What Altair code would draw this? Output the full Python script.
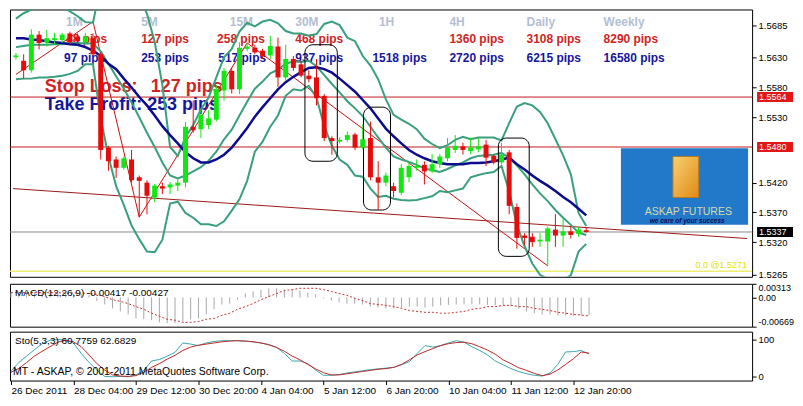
import altair as alt
import pandas as pd

FONT = "Liberation Sans"
W, HM, HD, HS = 744, 268, 43, 49

# ---------------- candles (H4, one entry per bar) ----------------
OPEN = [1.5631, 1.5625, 1.5609, 1.5669, 1.5656, 1.5660, 1.5660, 1.5671, 1.5666, 1.5656,
        1.5663, 1.5636, 1.5479, 1.5459, 1.5445, 1.5459, 1.5429, 1.5420, 1.5395, 1.5414,
        1.5412, 1.5415, 1.5420, 1.5514, 1.5510, 1.5517, 1.5526, 1.5575, 1.5608, 1.5577,
        1.5645, 1.5647, 1.5642, 1.5634, 1.5649, 1.5597, 1.5628, 1.5619, 1.5600, 1.5597,
        1.5566, 1.5495, 1.5489, 1.5492, 1.5501, 1.5479, 1.5495, 1.5429, 1.5420, 1.5414,
        1.5403, 1.5429, 1.5445, 1.5450, 1.5439, 1.5451, 1.5461, 1.5475, 1.5481, 1.5473,
        1.5476, 1.5484, 1.5465, 1.5454, 1.5471, 1.5379, 1.5331, 1.5329, 1.5321, 1.5321,
        1.5341, 1.5331, 1.5338, 1.5334, 1.5340]
HIGH = [1.5638, 1.5636, 1.5678, 1.5675, 1.5677, 1.5672, 1.5672, 1.5674, 1.5671, 1.5672,
        1.5671, 1.5639, 1.5482, 1.5464, 1.5464, 1.5475, 1.5432, 1.5424, 1.5418, 1.5420,
        1.5421, 1.5429, 1.5522, 1.5558, 1.5542, 1.5542, 1.5584, 1.5613, 1.5613, 1.5656,
        1.5655, 1.5652, 1.5645, 1.5667, 1.5664, 1.5652, 1.5633, 1.5625, 1.5609, 1.5628,
        1.5569, 1.5498, 1.5496, 1.5506, 1.5504, 1.5518, 1.5523, 1.5456, 1.5437, 1.5420,
        1.5451, 1.5456, 1.5459, 1.5456, 1.5468, 1.5468, 1.5495, 1.5500, 1.5487, 1.5496,
        1.5495, 1.5492, 1.5468, 1.5487, 1.5475, 1.5385, 1.5335, 1.5335, 1.5335, 1.5346,
        1.5367, 1.5359, 1.5346, 1.5346, 1.5344]
LOW = [1.5627, 1.5595, 1.5605, 1.5644, 1.5649, 1.5652, 1.5655, 1.5652, 1.5652, 1.5652,
       1.5633, 1.5459, 1.5440, 1.5428, 1.5442, 1.5420, 1.5362, 1.5367, 1.5387, 1.5401,
       1.5401, 1.5406, 1.5412, 1.5504, 1.5495, 1.5510, 1.5523, 1.5558, 1.5570, 1.5569,
       1.5641, 1.5636, 1.5628, 1.5628, 1.5581, 1.5592, 1.5608, 1.5597, 1.5589, 1.5550,
       1.5490, 1.5467, 1.5486, 1.5489, 1.5475, 1.5476, 1.5424, 1.5374, 1.5414, 1.5395,
       1.5399, 1.5421, 1.5440, 1.5417, 1.5436, 1.5445, 1.5456, 1.5470, 1.5467, 1.5468,
       1.5471, 1.5448, 1.5451, 1.5451, 1.5367, 1.5309, 1.5315, 1.5312, 1.5312, 1.5280,
       1.5312, 1.5312, 1.5326, 1.5329, 1.5336]
CLOSE = [1.5634, 1.5609, 1.5669, 1.5655, 1.5663, 1.5663, 1.5669, 1.5656, 1.5658, 1.5666,
         1.5636, 1.5475, 1.5456, 1.5445, 1.5461, 1.5424, 1.5423, 1.5398, 1.5415, 1.5410,
         1.5417, 1.5420, 1.5514, 1.5508, 1.5534, 1.5528, 1.5577, 1.5608, 1.5577, 1.5647,
         1.5649, 1.5639, 1.5633, 1.5650, 1.5597, 1.5628, 1.5613, 1.5600, 1.5594, 1.5562,
         1.5495, 1.5490, 1.5492, 1.5500, 1.5479, 1.5493, 1.5429, 1.5420, 1.5432, 1.5406,
         1.5445, 1.5448, 1.5448, 1.5439, 1.5451, 1.5464, 1.5479, 1.5482, 1.5475, 1.5479,
         1.5481, 1.5462, 1.5454, 1.5467, 1.5381, 1.5327, 1.5327, 1.5320, 1.5324, 1.5343,
         1.5331, 1.5338, 1.5332, 1.5341, 1.5337]
BARS = list(range(len(CLOSE)))

# ---------------- indicators ----------------
BB_UPPER = [1.5696, 1.5705, 1.5711, 1.5718, 1.5719, 1.5719, 1.5716, 1.5708, 1.5700, 1.5690,
            1.5689, 1.5753, 1.5775, 1.5783, 1.5774, 1.5761, 1.5735, 1.5704, 1.5657, 1.5584,
            1.5480, 1.5465, 1.5497, 1.5517, 1.5543, 1.5563, 1.5597, 1.5631, 1.5645, 1.5674,
            1.5689, 1.5683, 1.5691, 1.5694, 1.5688, 1.5675, 1.5671, 1.5671, 1.5667, 1.5670,
            1.5687, 1.5691, 1.5685, 1.5664, 1.5658, 1.5633, 1.5617, 1.5594, 1.5560, 1.5534,
            1.5526, 1.5519, 1.5510, 1.5494, 1.5485, 1.5478, 1.5483, 1.5492, 1.5497, 1.5493,
            1.5496, 1.5496, 1.5496, 1.5491, 1.5520, 1.5548, 1.5554, 1.5550, 1.5539, 1.5520,
            1.5493, 1.5466, 1.5434, 1.5369, 1.5347]
BB_MIDDLE = [1.5648, 1.5650, 1.5652, 1.5652, 1.5652, 1.5653, 1.5653, 1.5655, 1.5655, 1.5654,
             1.5654, 1.5641, 1.5620, 1.5599, 1.5578, 1.5555, 1.5530, 1.5504, 1.5480, 1.5454,
             1.5432, 1.5427, 1.5432, 1.5439, 1.5446, 1.5457, 1.5472, 1.5493, 1.5509, 1.5533,
             1.5556, 1.5578, 1.5590, 1.5604, 1.5610, 1.5620, 1.5624, 1.5623, 1.5625, 1.5616,
             1.5601, 1.5586, 1.5572, 1.5557, 1.5545, 1.5532, 1.5514, 1.5496, 1.5479, 1.5464,
             1.5459, 1.5455, 1.5450, 1.5444, 1.5441, 1.5438, 1.5443, 1.5449, 1.5454, 1.5461,
             1.5465, 1.5466, 1.5467, 1.5470, 1.5462, 1.5449, 1.5434, 1.5417, 1.5402, 1.5389,
             1.5374, 1.5361, 1.5349, 1.5336, 1.5332]
BB_LOWER = [1.5594, 1.5595, 1.5595, 1.5597, 1.5597, 1.5598, 1.5600, 1.5603, 1.5608, 1.5619,
            1.5619, 1.5529, 1.5464, 1.5414, 1.5382, 1.5348, 1.5325, 1.5304, 1.5303, 1.5324,
            1.5385, 1.5388, 1.5369, 1.5361, 1.5350, 1.5350, 1.5347, 1.5355, 1.5373, 1.5392,
            1.5423, 1.5472, 1.5489, 1.5514, 1.5533, 1.5566, 1.5577, 1.5575, 1.5583, 1.5563,
            1.5515, 1.5482, 1.5459, 1.5450, 1.5432, 1.5430, 1.5410, 1.5396, 1.5398, 1.5393,
            1.5391, 1.5390, 1.5391, 1.5394, 1.5397, 1.5406, 1.5404, 1.5407, 1.5410, 1.5429,
            1.5433, 1.5436, 1.5438, 1.5448, 1.5405, 1.5349, 1.5313, 1.5284, 1.5265, 1.5258,
            1.5254, 1.5256, 1.5264, 1.5304, 1.5317]
MA_BLUE = [1.5663, 1.5663, 1.5661, 1.5660, 1.5658, 1.5656, 1.5655, 1.5653, 1.5652, 1.5648,
           1.5642, 1.5633, 1.5620, 1.5611, 1.5595, 1.5580, 1.5564, 1.5550, 1.5533, 1.5515,
           1.5500, 1.5486, 1.5471, 1.5461, 1.5454, 1.5454, 1.5459, 1.5467, 1.5479, 1.5495,
           1.5512, 1.5531, 1.5547, 1.5562, 1.5577, 1.5589, 1.5598, 1.5606, 1.5613, 1.5614,
           1.5611, 1.5605, 1.5595, 1.5584, 1.5573, 1.5559, 1.5545, 1.5528, 1.5511, 1.5498,
           1.5486, 1.5475, 1.5467, 1.5461, 1.5456, 1.5453, 1.5451, 1.5451, 1.5451, 1.5453,
           1.5453, 1.5454, 1.5456, 1.5459, 1.5462, 1.5451, 1.5442, 1.5432, 1.5423, 1.5415,
           1.5406, 1.5396, 1.5387, 1.5376, 1.5365]
MACD_MAIN = [0.0012, 0.0011, 0.0012, 0.0012, 0.0011, 0.0010, 0.0010, 0.0009, 0.0008, 0.0008,
             0.0005, -0.0008, -0.0016, -0.0025, -0.0032, -0.0039, -0.0048, -0.0050, -0.0052, -0.0057,
             -0.0059, -0.0059, -0.0055, -0.0050, -0.0048, -0.0039, -0.0027, -0.0016, -0.0014, -0.0005,
             0.0009, 0.0014, 0.0018, 0.0021, 0.0021, 0.0018, 0.0018, 0.0016, 0.0011, 0.0007,
             -0.0002, -0.0007, -0.0011, -0.0014, -0.0014, -0.0016, -0.0021, -0.0023, -0.0025, -0.0025,
             -0.0023, -0.0021, -0.0021, -0.0023, -0.0021, -0.0018, -0.0017, -0.0016, -0.0016, -0.0016,
             -0.0016, -0.0017, -0.0018, -0.0017, -0.0020, -0.0026, -0.0032, -0.0036, -0.0039, -0.0039,
             -0.0041, -0.0041, -0.0042, -0.0042, -0.00417]
MACD_SIGNAL = [0.0011, 0.0011, 0.0011, 0.0011, 0.0011, 0.0011, 0.0011, 0.0010, 0.0010, 0.0010,
               0.0009, 0.0007, 0.0002, -0.0005, -0.0009, -0.0014, -0.0021, -0.0027, -0.0036, -0.0043,
               -0.0050, -0.0052, -0.0057, -0.0057, -0.0055, -0.0050, -0.0048, -0.0041, -0.0036, -0.0027,
               -0.0021, -0.0014, -0.0005, 0.0002, 0.0009, 0.0016, 0.0018, 0.0021, 0.0021, 0.0021,
               0.0018, 0.0014, 0.0009, 0.0005, -0.0002, -0.0007, -0.0014, -0.0016, -0.0018, -0.0021,
               -0.0025, -0.0030, -0.0032, -0.0034, -0.0034, -0.0036, -0.0036, -0.0034, -0.0032, -0.0027,
               -0.0025, -0.0021, -0.0021, -0.0018, -0.0018, -0.0021, -0.0021, -0.0025, -0.0027, -0.0030,
               -0.0034, -0.0036, -0.0039, -0.0040, -0.00427]
STO_MAIN = [15, 38, 55, 72, 88, 97, 99, 98, 90, 62,
            38, 18, 1, 0, 1, 0, 5, 17, 42, 46,
            55, 65, 90, 87, 83, 90, 94, 96, 96, 96,
            95, 93, 90, 86, 78, 62, 42, 42, 35, 18,
            4, 4, 6, 10, 13, 16, 19, 21, 23, 25,
            32, 40, 62, 83, 79, 83, 90, 96, 92, 80,
            70, 58, 42, 32, 22, 14, 8, 4, 2, 10,
            33, 66, 67, 70, 60.7759]
STO_SIGNAL = [12, 22, 38, 55, 68, 80, 92, 97, 93, 80,
              58, 35, 18, 5, 2, 1, 3, 12, 25, 35,
              47, 57, 70, 79, 84, 87, 90, 93, 95, 96,
              95, 93, 90, 85, 78, 68, 55, 45, 33, 21,
              11, 5, 5, 8, 11, 14, 17, 20, 22, 25,
              33, 45, 58, 67, 75, 83, 88, 91, 92, 88,
              80, 71, 60, 45, 35, 24, 17, 9, 3, 7,
              18, 33, 48, 66, 62.6829]

# ---------------- drawn objects ----------------
ZIGZAG_BARS = [0, 10, 16, 30, 69]
ZIGZAG_PRICES = [1.5602, 1.5691, 1.5362, 1.5655, 1.5280]
TREND_BARS = [-0.375, 94.875]
TREND_PRICES = [1.5410, 1.5326]
BOX_FROM = [37.5, 45.1, 62.6]
BOX_TO = [41.7, 48.6, 66.6]
BOX_HIGH = [1.5652, 1.5547, 1.5495]
BOX_LOW = [1.5456, 1.5374, 1.5296]
LEVEL_SL, LEVEL_TP, LEVEL_BID, LEVEL_FIBO = 1.5564, 1.5480, 1.5337, 1.5271

# ---------------- texts ----------------
TIMEFRAMES = ["1M", "5M", "15M", "30M", "1H", "4H", "Daily", "Weekly"]
TF_BARS = [6.5, 16.25, 27.75, 36.25, 47.1, 56.25, 66.25, 76.25]
SL_PIPS = ["48 pips", "127 pips", "258 pips", "468 pips", "1360 pips", "3108 pips", "8290 pips"]
SL_BARS = [6.5, 16.25, 26.1, 36.25, 56.25, 66.25, 76.25]
TP_PIPS = ["97 pips", "253 pips", "517 pips", "937 pips", "1518 pips", "2720 pips", "6215 pips", "16580 pips"]
TP_BARS = [6.25, 16.25, 26.25, 36.25, 46.25, 56.25, 66.25, 76.25]
ROW_TF, ROW_SL, ROW_TP = 1.5691, 1.5661, 1.5630

X_TICK_BARS = [0, 8, 16, 24, 32, 40, 48, 56, 64, 72]
X_TICK_LABELS = ["26 Dec 2011", "28 Dec 04:00", "29 Dec 12:00", "30 Dec 20:00", "4 Jan 04:00",
                 "5 Jan 12:00", "6 Jan 20:00", "10 Jan 04:00", "11 Jan 12:00", "12 Jan 20:00"]
PRICE_TICKS = [1.5685, 1.5630, 1.5580, 1.5530, 1.5420, 1.5370, 1.5320, 1.5265]
MACD_TICKS = [0.00313, 0.0, -0.00669]
MACD_TICK_LABELS = ["0.00313", "0.00", "-0.00669"]
STO_TICKS = [0, 100]

BULL, BEAR = "#10e810", "#e60c0c"
BB_COLOR, MA_COLOR = "#3a9f7c", "#0c0c8e"
RED_TXT, BLUE_TXT, GREY_TXT = "#d02424", "#16169c", "#b3bed2"

XS = alt.Scale(domain=[-0.125, 94.875], nice=False, zero=False)
YM = alt.Scale(domain=[1.52616, 1.57113], nice=False, zero=False)
YD = alt.Scale(domain=[-0.00669, 0.00313], nice=False, zero=False)
YS = alt.Scale(domain=[-10, 120], nice=False, zero=False)

AXIS_STYLE = dict(tickSize=4, tickColor="black", labelPadding=2, labelFont=FONT,
                  labelColor="black", domain=False, grid=False, title=None, labelOverlap=False)
MAIN_AXIS = alt.Axis(orient="right", values=PRICE_TICKS, format=".4f", labelFontSize=9.5, **AXIS_STYLE)
macd_expr = (f"datum.value > 0.001 ? '{MACD_TICK_LABELS[0]}' : "
             f"(datum.value < -0.001 ? '{MACD_TICK_LABELS[2]}' : '{MACD_TICK_LABELS[1]}')")
MACD_AXIS = alt.Axis(orient="right", values=MACD_TICKS, labelExpr=macd_expr, labelFlush=True,
                     labelFontSize=9, **AXIS_STYLE)
STO_AXIS = alt.Axis(orient="right", values=STO_TICKS, format="d", labelFontSize=9.5, **AXIS_STYLE)
x_expr = "[" + ",".join(f"'{s}'" for s in X_TICK_LABELS) + "][round(datum.value / 8)]"
X_AXIS = alt.Axis(values=X_TICK_BARS, labelExpr=x_expr, labelAlign="left", labelBaseline="top", labelPadding=1,
                  labelFont=FONT, labelFontSize=10, labelColor="black", tickSize=4, tickColor="black",
                  domain=False, grid=False, title=None, labelOverlap=False)


def xenc(field="bar", axis=None):
    return alt.X(f"{field}:Q", scale=XS, axis=axis)


def yenc(field, scale=YM, axis=MAIN_AXIS):
    return alt.Y(f"{field}:Q", scale=scale, axis=axis)


def texts(bars, prices, labels, color, size, weight="bold", align="left", style="normal"):
    df = pd.DataFrame({"bar": bars, "price": prices, "txt": labels})
    return alt.Chart(df).mark_text(align=align, baseline="middle", font=FONT, fontSize=size,
                                   fontWeight=weight, fontStyle=style, color=color).encode(
        x=xenc(), y=yenc("price"), text="txt:N")


def level(price, color, width=1.0):
    return alt.Chart(pd.DataFrame({"price": [price]})).mark_rule(
        color=color, strokeWidth=width).encode(y=yenc("price"))


def polyline(bars, values, color, width, scale=YM, axis=MAIN_AXIS, xaxis=None, dash=None):
    df = pd.DataFrame({"bar": bars, "v": values})
    kw = dict(color=color, strokeWidth=width, clip=True)
    if dash:
        kw["strokeDash"] = dash
    return alt.Chart(df).mark_line(**kw).encode(x=xenc(axis=xaxis), y=yenc("v", scale, axis))


def panel_text(txt, px, py, size=10):
    return alt.Chart(pd.DataFrame({"t": [txt]})).mark_text(
        align="left", baseline="middle", font=FONT, fontSize=size, color="black").encode(
        x=alt.value(px), y=alt.value(py), text="t:N")


# ---------------- main price panel ----------------
candles = pd.DataFrame({"bar": BARS, "open": OPEN, "high": HIGH, "low": LOW, "close": CLOSE})
candles["dir"] = ["up" if c >= o else "down" for o, c in zip(OPEN, CLOSE)]
ccolor = alt.Color("dir:N", scale=alt.Scale(domain=["up", "down"], range=[BULL, BEAR]), legend=None)
wicks = alt.Chart(candles).mark_rule(strokeWidth=1).encode(
    x=xenc(), y=yenc("low"), y2="high:Q", color=ccolor)
bodies = alt.Chart(candles).mark_bar(size=5).encode(
    x=xenc(), y=yenc("open"), y2="close:Q", color=ccolor)

boxes = alt.Chart(pd.DataFrame({"b0": BOX_FROM, "b1": BOX_TO, "hi": BOX_HIGH, "lo": BOX_LOW})).mark_rect(
    cornerRadius=8, fillOpacity=0, stroke="black", strokeWidth=1).encode(
    x=xenc("b0"), x2="b1:Q", y=yenc("hi"), y2="lo:Q")

logo = alt.Chart(pd.DataFrame({"b0": [78.5], "b1": [95.0], "hi": [1.5478], "lo": [1.5349]})).mark_rect(
    color="#2379c9").encode(x=xenc("b0"), x2="b1:Q", y=yenc("hi"), y2="lo:Q")
icon = alt.Chart(pd.DataFrame({"b0": [85.25], "b1": [88.6], "hi": [1.5464], "lo": [1.5395]})).mark_rect(
    color=alt.Gradient(gradient="linear", stops=[alt.GradientStop(color="#f8d070", offset=0),
                                                 alt.GradientStop(color="#e08a14", offset=1)],
                       x1=0, x2=1, y1=0, y2=1),
    stroke="#b47a22", strokeWidth=1).encode(x=xenc("b0"), x2="b1:Q", y=yenc("hi"), y2="lo:Q")

layers = [
    texts(TF_BARS, [ROW_TF] * len(TF_BARS), TIMEFRAMES, GREY_TXT, 12),
    texts(SL_BARS, [ROW_SL] * len(SL_BARS), SL_PIPS, RED_TXT, 12),
    texts(TP_BARS, [ROW_TP] * len(TP_BARS), TP_PIPS, BLUE_TXT, 12),
    texts([3.75, 17.5], [1.5581, 1.5581], ["Stop Loss:", "127 pips"], RED_TXT, 18),
    texts([3.75], [1.5550], ["Take Profit: 253 pips"], BLUE_TXT, 18),
    level(LEVEL_SL, "#c01c1c"),
    level(LEVEL_TP, "#c01c1c"),
    level(LEVEL_BID, "#8a8a8a"),
    level(LEVEL_FIBO, "#eeee70", 1.5),
    polyline(TREND_BARS, TREND_PRICES, "#a01818", 1),
    polyline(ZIGZAG_BARS, ZIGZAG_PRICES, "#c81010", 1),
    polyline(BARS, BB_UPPER, BB_COLOR, 2),
    polyline(BARS, BB_MIDDLE, BB_COLOR, 2),
    polyline(BARS, BB_LOWER, BB_COLOR, 2),
    polyline(BARS, MA_BLUE, MA_COLOR, 2.5),
    boxes, logo, icon,
    texts([87.25], [1.5370], ["ASKAP FUTURES"], "#d4d9a6", 10.5, weight="normal", align="center"),
    texts([87.1], [1.5355], ["we care of your success"], "#101050", 6.5, align="center", style="italic"),
    texts([94.85], [1.5281], ["0.0 @1.5271"], "#e2e200", 9, weight="normal", align="right"),
    wicks, bodies,
]
for price, bg in [(LEVEL_SL, "#e01818"), (LEVEL_TP, "#e01818"), (LEVEL_BID, "#000000")]:
    tdf = pd.DataFrame({"price": [price], "txt": [f"{price:.4f}"]})
    layers.append(alt.Chart(tdf).mark_tick(orient="horizontal", size=36, thickness=10, color=bg, opacity=1).encode(
        x=alt.value(W + 23), y=yenc("price")))
    layers.append(alt.Chart(tdf).mark_text(align="left", baseline="middle", font=FONT, fontSize=9,
                                           color="white").encode(x=alt.value(W + 7), y=yenc("price"), text="txt:N"))
main = alt.layer(*layers).properties(width=W, height=HM)

# ---------------- MACD panel ----------------
macd_df = pd.DataFrame({"bar": BARS, "main": MACD_MAIN, "base": [0.0] * len(BARS)})
macd_bars = alt.Chart(macd_df).mark_rule(color="#a8a8a8", strokeWidth=1).encode(
    x=xenc(), y=yenc("base", YD, MACD_AXIS), y2="main:Q")
macd = alt.layer(
    macd_bars,
    polyline(BARS, MACD_SIGNAL, "#c83030", 1, scale=YD, axis=MACD_AXIS, dash=[2, 2]),
    panel_text("MACD(12,26,9) -0.00417 -0.00427", 5, 9),
).properties(width=W, height=HD)

# ---------------- Stochastic panel ----------------
sto = alt.layer(
    polyline(BARS, STO_MAIN, "#3aa8ae", 1, scale=YS, axis=STO_AXIS, xaxis=X_AXIS),
    polyline(BARS, STO_SIGNAL, "#c02828", 1, scale=YS, axis=STO_AXIS, xaxis=X_AXIS),
    panel_text("Sto(5,3,3) 60.7759 62.6829", 5, 9),
    panel_text("MT - ASKAP, \u00a9 2001-2011 MetaQuotes Software Corp.", 3, 40, 10.5),
).properties(width=W, height=HS)

chart = alt.vconcat(main, macd, sto, spacing=3).properties(
    background="white", padding=0
).configure_view(stroke="black", strokeWidth=1, fill="white")

chart.save("out.html", embed_options={"renderer": "svg", "actions": False})
